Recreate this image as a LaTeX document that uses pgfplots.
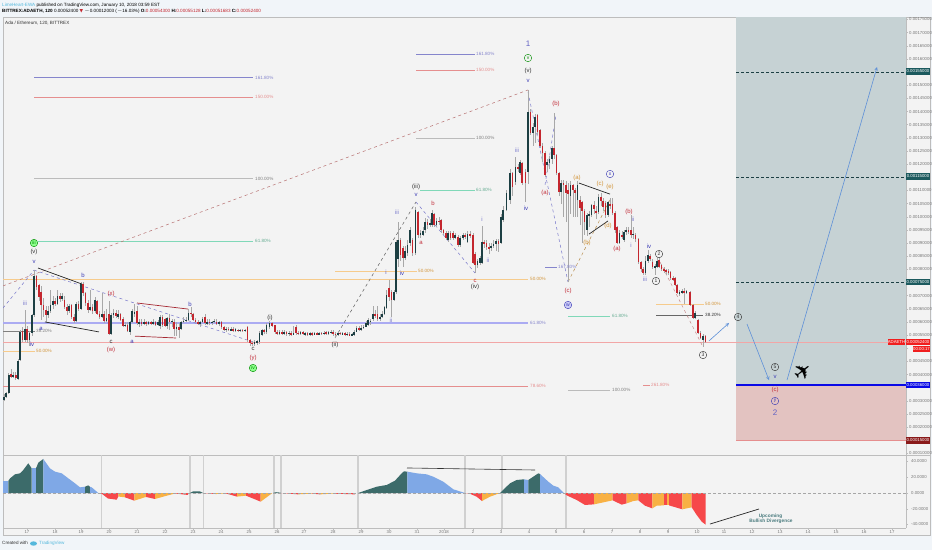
\documentclass[border=0pt]{standalone}
\usepackage{pgfplots}
\usepackage{pgfplotstable}
\pgfplotsset{compat=1.18}
\usepackage{fontspec}
\setmainfont{Liberation Sans}
\newfontfamily\djv{DejaVu Sans}
\definecolor{pagebg}{HTML}{F1F5F9}
\definecolor{panebg}{HTML}{F3F3F3}
\definecolor{framec}{HTML}{BDBDBD}
\definecolor{boxg}{HTML}{C6D2D4}
\definecolor{boxr}{HTML}{E3C3C1}
\definecolor{upc}{HTML}{1C3F43}
\definecolor{dnc}{HTML}{C4262E}
\definecolor{wickc}{HTML}{A8A8A8}
\definecolor{fibb}{HTML}{8585CC}
\definecolor{fibr}{HTML}{E58E8E}
\definecolor{fibg}{HTML}{BBBBBB}
\definecolor{fibt}{HTML}{80D8B8}
\definecolor{fibo}{HTML}{F6CB8C}
\definecolor{fibl}{HTML}{ABABF2}
\definecolor{pline}{HTML}{F2A6A6}
\definecolor{wblue}{HTML}{3B3BB5}
\definecolor{wred}{HTML}{C2303C}
\definecolor{wdark}{HTML}{333333}
\definecolor{worg}{HTML}{D2953A}
\definecolor{arrowc}{HTML}{5E90D8}
\definecolor{tealb}{HTML}{1C5A5E}
\definecolor{oscblue}{HTML}{7FA8E6}
\definecolor{oscdark}{HTML}{3C6B6A}
\definecolor{oscred}{HTML}{F6484A}
\definecolor{oscorg}{HTML}{F8B144}
\definecolor{tvblue}{HTML}{55B8DC}
\definecolor{vbar}{HTML}{D0D0D0}
\definecolor{ticktxt}{HTML}{777777}
\definecolor{lineblue}{HTML}{0A0AE6}
\definecolor{lblred}{HTML}{F01E1E}
\definecolor{lbldark}{HTML}{8A1A1A}
\newcommand{\fsm}{\fontsize{4.6}{5}\selectfont}
\newcommand{\fwv}{\fontsize{6}{6}\selectfont}

% columns: x, open, close, high, low; prices in 1e-5 ETH
\pgfplotstableread{
x o c h l
4.0 30.5 31.5 32.5 30
6.3 31.5 33 33.5 31
8.7 33 39.8 40.5 32.5
11 40.2 39.1 42 38.5
13.3 39.1 40 41 38.5
15.7 40 38.5 41 38
18 38.3 45.1 46 38
20.3 45.5 56.1 57 45
22.6 56.5 53 58 52.5
25 53 57.5 64.5 52.5
27.3 57.5 53 58.5 52
29.6 53 55.8 56.5 51
32 55.8 62.6 63 54.5
34.3 62.6 77.5 79.7 62
36.6 77.4 73.2 78 72
39 74 69.4 74.5 68
41.3 71.3 66.4 73.5 60.7
43.6 66.4 64.5 69 62
46 64.5 62.5 66 60
48.3 62.5 64 66 61.5
50.6 64 66.5 72 63.5
53 66.5 68 70 65
55.3 68 67 69 66
57.6 67 70 72 66.5
60 70 68.8 71 67.5
62.3 68.8 70 71 68
64.6 68.5 65.5 70 65
67 65.5 64 67 62.5
69.3 64 66 67 63.5
71.6 66.4 61.9 67 61
74 61.9 60.5 63 59.5
76.3 60.5 66.8 67.5 60
78.6 66.8 65 68 64
81 65 74.4 75 64.5
83.3 74.4 71 75 70
85.6 71 67.2 71.5 66
88 67.2 64.5 68.5 63.5
90.3 64.5 65.5 72 64
92.6 65.5 64 67 63
95 64 68.5 69.5 63.5
97.3 68 63 68.5 62.5
99.6 63 62 64 61
102 62 63 71 61.5
104.3 63 60.5 64 59.5
106.6 60.5 61.5 65 60
109 63 55.6 68 55
111.3 55.6 62.8 63.5 55
113.6 62.5 63.5 65 61.5
116 63.5 62.2 64.5 61.5
118.3 62 63 64.5 61
120.6 63 60.9 63.5 60.5
123 61.2 58.5 62 58
125.3 58.5 59 60 58
127.6 59 56.5 60 56
130 56.2 60 60.5 55
132.3 60 64.1 65 59.5
134.6 63 63.9 67 62
137 64 59.5 66 59
139.3 59.5 60 61 58
141.6 60 59.3 61 58.5
144 59.3 60 61 58.7
146.3 60 59.2 60.5 58.5
148.6 59.2 59.8 60.5 58.7
151 59.8 59.2 60.5 58.7
153.3 59.2 59.9 61 58.8
155.6 59.9 59 60.5 58.5
158 59 60 60.8 58.5
160.3 58.5 62 62.5 57.5
162.6 62 59 62.5 58
165 61 58.5 61.5 58
167.3 58.5 61.5 62 57.5
169.6 61.5 60 63 57
172 60 60.5 61 58
174.3 60 57.2 61 54.5
176.6 57.2 58 60 54.5
179 58 57 59.5 54
181.3 57.5 60 60.5 57
183.6 60 60.5 62 59.5
186 60.5 60.8 62 60
188.6 60.8 63.5 65 60.5
191 63.5 63 65.5 62
193.3 63 60.9 63.5 60.5
195.6 60.9 60 61.5 59.5
198 60 59.5 60.8 59
200.3 59.5 60 60.5 58
202.6 60 61 62 59.5
205 62 59.5 63 59
207.3 59.5 60 61 59
209.6 60 59.8 61 59
212 59.8 60 60.5 59
214.3 60 60.4 61 59.5
216.6 60 59.5 61 59
219 59.5 60 60.5 58.5
221.6 60 58 60.5 57.5
224 58 57 58.5 56.5
226.3 57 57.5 58 56
228.6 57.5 56.8 58 56.5
231 56.8 57.3 58 56.5
233.3 57.3 56.8 58 56
235.6 56.8 57 57.8 56.3
238 57 56.5 57.5 56
240.3 56.5 57 57.5 56
242.6 57 56.5 57.3 56
245 56.5 57 57.5 56
247.6 58 53.1 58.3 52.5
250 53.1 52 53.5 51
252.3 52 51.7 52.8 51
254.6 51.7 52.2 53 51
257 52.2 52.5 53 51.3
259.6 52.3 55.8 56.5 51.5
262 55 56.8 57.5 54.5
264.3 56.8 56.2 57.5 55.5
266.6 56 58.8 59.5 55.5
269.6 58 59.6 60.5 57.5
272 59.6 58.6 60 58
275 58.8 56 59 55.5
277.3 56 55.5 57 55
279.6 55.5 56.3 57 55
282 56.3 55.5 57 55
284.3 55.5 56 57 55
286.6 56 55.4 56.5 54.5
289 55.4 55.9 56.5 54.8
291.3 55.9 55.2 56.5 54.5
293.6 55.2 55.6 58.5 55
296 58 55.8 59 55
298.3 55.8 55.5 56.5 55
300.6 55.5 56 56.5 55
303 56 55.3 56.5 55
305.3 55.3 55.7 56.2 54.8
307.6 55.7 55.2 56 54.8
310 55.2 55.6 56 54.8
312.3 55.6 55.3 56 54.8
314.6 55.3 55.8 56.2 55
317 55.8 55.4 56.2 55
319.3 55.4 55.8 56.2 55
321.6 55.8 55.5 56.2 55
324 55.5 55.9 56.4 55
326.3 55.9 55.6 56.4 55.2
328.6 55.6 56 56.5 55.2
331 56 56.2 56.8 55.5
333.3 56.2 55.5 56.8 54.5
335.6 55.5 55.2 56 53.9
338 55.2 55.9 56.3 54.8
340.3 55.9 55.5 56.3 55
342.6 55.5 55.7 56.2 55
345 55.7 55.2 56 54.8
347.3 55.2 55.5 56 54.8
349.6 55.5 54.9 56 54.5
352 54.9 55.2 55.8 54.5
354.3 55.2 56.2 57 54.8
356.6 56.2 57.8 58.5 56
359 57.8 57 58.5 56.5
361.3 57 57.8 59 56.5
363.6 57.8 58.2 59 57.5
366 58.2 59.6 60.5 58
368.3 59 60.7 61.5 58.5
370.6 60 60.5 61 59
373 61 63 66 60.5
375.3 63 62.5 64.5 61.5
377.6 63 61 66 60.5
380 61 62 63 60.5
382.3 62 63 64 61.5
384.6 63 65.5 66 62.5
386.6 65.3 70.2 72 65
389 73 69.4 75.9 68
391.6 71.3 68.3 72 61.8
394 68.5 71.3 72 68
396 71.3 90.3 91 70.5
398.3 84 91 98 81
400.6 91 85.4 92 83
403 88 84.3 89 81
405.3 84.3 87 89 83.5
407.6 86.2 89.2 91 85
410 90 94.9 96 89
412.6 91 86.2 92 85
415.5 86.2 102.5 103.6 85.5
418.3 101.7 93 102 92
420.6 93 93.9 95 92
423 93 94.5 96 92.5
425.3 94.9 98 99.5 94
427.6 98 96.8 99 95.5
430 96.8 97.5 99 96
432 96.8 101.5 102.5 96
434.3 101 96.8 101.5 96
436.6 96.8 98.5 99.5 96
439 98.5 98 100 97
441.3 98.7 94.9 99 94
443.6 94.9 94 95.5 93
446 94 92 94.5 91
448.3 91.1 93.8 94.5 90.5
450.6 93.8 92 94.5 91
453 93.8 91.9 94.5 91
455.3 92 93 94 91.5
458 92.2 89.2 93 88.5
460.3 89.2 92 92.5 88.5
463 92 93 94 91
465.3 93 92.5 94 91.5
467.6 90.3 93.4 94.5 90
470 93.4 93 94.5 92
473 93 82.4 94 82
475.3 86 81.6 86.5 78.6
477.6 81.6 83 84 80.5
480 82.4 84.3 85 81.5
482 82.4 90.3 96.4 82
484.3 90.3 90 91 88
486.6 90 88.5 91 87.5
489 88.5 88 90 86
491.3 88 88.8 90 87
493.6 88.8 89.5 91 88
496 89.6 90.7 91.5 87
498.6 90.7 89.6 91.5 86.5
501 90 99.8 101 89.5
503.3 98.7 102.5 104 98
506.6 102.5 109 110 102
510 106.3 116.6 118 105
512.6 116.6 111.2 117 108
515.6 113.1 118.8 122.6 112
518 118.8 118 120 117
520 116.6 120.7 121.5 116
522.3 120.4 112.8 121 112
525.6 116.9 112.8 118 105.5
528.3 116.9 139.7 148.1 112.5
530.6 139.7 131.8 141 131
533 131.8 134 135.5 127
535.3 134 138 139 128
537.6 138.6 132.1 139 131
540.3 132.9 127 133.5 126
542.6 127 124.2 128 121
545 124.2 115.8 125 115
547.3 119.6 120.7 122 117
549.6 120.4 122 123 118
552 122 126 127 120
554.3 126 123.4 139.4 122
556.6 123.4 116.6 124 116
559 116.6 109.3 117 108
561.3 109.3 112.8 114 105
563.6 112.8 112 114 100
566 112 109 113.5 98
568.3 110 108.5 113 75.1
570.6 108 112 113.5 101
573 112 110 112.5 100
575.3 110 109 111 100
577.6 106.3 112 113.5 100
580 106.3 103.3 108 97
582.3 105.5 102 106 90
584.6 102 98 103 93
587 94.9 100.6 101.5 92.6
589.3 100.6 101 102 96
591.6 100.6 104.4 105 100
594 104.4 103 106 101
596.3 102 101.5 104 99
598.6 101.7 107.4 108.5 101
601 107.4 106 109 104
603.3 106 103.6 107 102
605.6 105.2 100.6 106 99.5
608 100.6 105.5 106 100
610.3 105 104 107 103
612.6 105 101.4 107 100.5
615 101.4 94.9 102 94
617.3 96 90 96.5 89.5
619.6 90 93.8 95 89.5
622 93 92.5 94.5 91.5
624 91.1 94.1 95 90.5
626.3 94.1 95 96 93
628.6 95 94.5 96 93.5
631 94.9 93 100.6 92
633.3 93 93.5 96 91.5
635.6 93 91.5 94 90.5
638.6 91.5 82.7 92 82
641 82.7 80 83 79
643.3 80 78.6 81 78
645.6 78.6 83 85 78
648 83 85.4 87.5 82.5
650.3 85 84 86 83
652.6 82.7 80.8 84 80
655 80.8 81 82 78
657 81 83 85 80.5
659.3 83.5 81 85 80.5
661.6 81.5 80 82 79.5
664 80 79.8 81 78.5
666.3 79.8 79 80 78
668.6 79.2 79 80 78
670.6 79 76.7 79.5 76
673 76.7 76 77.5 75.5
675 76.7 74 77 73.5
677.3 74 71 74.5 70.5
679.6 71 71.2 72 70
682 71.2 71.6 72.5 70.5
684.3 71.6 71.3 73 67
686.6 71.3 71.6 72 70.5
690 71.3 66.4 71.8 66
693 66.4 61.5 67 61
695.3 61.5 63.3 64 61
698 60.7 55.8 61 55.5
700.6 55.8 53.9 56.5 53.5
703 53.1 54.6 55.5 50.4
705.6 54.6 52.4 55.2 52
}\candles

% oscillator envelope: x, value
\pgfplotstableread{
x v
3 15.2
8.3 15.2
10 18.6
15 23.7
20 25
23.3 29.2
28.3 37.7
31.7 31.3
36 31.3
38.3 38.5
43.3 43.2
50 31.3
55 27.1
61.7 25
68.3 18.6
75 12.3
80 7.2
85 8
88.3 9.7
90 7.8
91.7 7.2
98.3 0
101.7 -0.8
108 -7
116.7 -8.5
118.3 -4.5
125 -5.5
134.3 -9.7
146 -5
155 -7.6
165 -4
175 -0.6
188 -2.5
190 0
193 2
200 2
203 0
216 -1.3
226 -0.6
237 -4.6
246 -3.4
253 -7
260.7 -11
272 -0.4
273 0
276 1
280 0.5
281 0
298 -1.7
312 -0.8
320 -1.7
333 -0.8
355 -1.7
358.3 0
366.7 3.8
376.7 8
386.7 10.2
395 15.7
401.7 25
404 27.5
407.3 27.1
416.7 25
426.7 23.7
433.3 20.7
443.3 14.4
453.3 4.7
465 0
470 -1
476.7 -4.7
482 -10.2
485 -8
490 -4.7
500 0
510 12.3
516.7 16.5
524 17.4
528.3 16.5
533.3 20.7
538.3 25
540 24.1
548.3 14.4
553.3 9.3
558.3 7.2
564 0
566.7 -3
576.7 -8.9
585 -15.2
594 -14.4
603.3 -11.9
612.7 -9.3
621.7 -14.8
626.7 -13.1
633.3 -10.2
638.3 -9.3
645 -16.1
652.3 -19.5
656.7 -16.1
664 -15.7
666.7 -15.7
669 -15.7
682.3 -20.7
686.7 -19.5
691.7 -18.2
696.7 -27.9
701.7 -36.4
705.7 -40.2
}\osc

\newcommand{\seg}[5]{\addplot[#1] coordinates {(#2,#3)(#4,#5)};}
\newcommand{\oseg}[3]{\addplot[fill=#3,draw=none,restrict x to domain=#1:#2] table[x=x,y=v]{\osc} \closedcycle;}
\newcommand{\vb}[1]{\addplot[vbar,line width=1.4pt] coordinates {(#1,-44.44)(#1,48.25)};}
\newcommand{\W}[5][\fwv]{\node[text=#2,font=#1,inner sep=0pt] at (axis cs:#3,#4) {#5};}
\newcommand{\FL}[4]{\node[text=#1,font=\fsm,inner sep=0pt,anchor=west] at (axis cs:#2,#3) {#4};}
\newcommand{\CC}[5]{\node[circle,draw=#1,fill=#2,text=#1,font=\fontsize{5}{5}\selectfont,inner sep=0pt,minimum size=7.5pt,line width=.4pt] at (axis cs:#3,#4) {#5};}
\newcommand{\PB}[3]{\node[fill=#1,text=white,font=\fontsize{4.3}{5}\selectfont,inner sep=0pt,minimum width=24pt,minimum height=6.2pt] at (axis cs:918,#2) {#3};}

\begin{document}
\begin{tikzpicture}
\useasboundingbox (0,0) rectangle (932pt,550pt);
% ---------- page and panes
\begin{axis}[at={(0,0)},anchor=south west,scale only axis,width=932pt,height=550pt,
  xmin=0,xmax=932,ymin=0,ymax=550,y dir=reverse,hide axis,clip=false]
\fill[pagebg] (axis cs:0,0) rectangle (axis cs:932,550);
\fill[panebg] (axis cs:3,17) rectangle (axis cs:930,535);
\draw[framec,line width=.9pt] (axis cs:3,17) rectangle (axis cs:930,535);
\draw[framec,line width=.9pt] (axis cs:3,455) -- (axis cs:930,455);
\draw[framec,line width=.7pt] (axis cs:3,528) -- (axis cs:906,528);
\end{axis}
% ---------- price pane
\begin{axis}[at={(3pt,95pt)},anchor=south west,scale only axis,width=903pt,height=438pt,
  xmin=3,xmax=906,ymin=9.41,ymax=175.94,
  axis x line=none,axis y line=right,axis line style={-,draw=framec},
  ytick={10,15,...,175},
  yticklabels={0.00010000,,0.00020000,0.00025000,0.00030000,,0.00040000,0.00045000,,0.00055000,0.00060000,0.00065000,0.00070000,,0.00080000,0.00085000,0.00090000,0.00095000,0.00100000,0.00105000,0.00110000,,0.00120000,0.00125000,0.00130000,0.00135000,0.00140000,0.00145000,0.00150000,,0.00160000,0.00165000,0.00170000,0.00175000},
  yticklabel style={font=\fontsize{4.3}{5}\selectfont,text=ticktxt,inner sep=0pt,xshift=1pt},
  tick style={draw=framec,line width=.4pt},tick align=outside,major tick length=2pt,
  unbounded coords=discard]
% target zones
\addplot[fill=boxg,draw=none] coordinates {(736,36)(906,36)(906,175.94)(736,175.94)} -- cycle;
\addplot[fill=boxr,draw=none] coordinates {(736,15)(906,15)(906,36)(736,36)} -- cycle;
\seg{fibr,line width=.4pt}{736}{15}{906}{15}
% Fibonacci levels
\seg{fibb,line width=.7pt}{34}{152.9}{253}{152.9}
\seg{fibr,line width=.7pt}{34}{145.5}{253}{145.5}
\seg{fibg,line width=.8pt}{34}{114.5}{253}{114.5}
\seg{fibt,line width=.7pt}{38}{90.8}{253}{90.8}
\seg{fibo,line width=.7pt}{3}{76.3}{528}{76.3}
\seg{fibl,line width=1.4pt}{3}{59.6}{528}{59.6}
\seg{fibr,line width=.7pt}{3}{35.6}{528}{35.6}
\seg{gray,line width=.5pt}{3}{56.6}{35}{56.6}
\seg{fibo,line width=.8pt}{3}{48.9}{35}{48.9}
\seg{fibo,line width=.7pt}{335}{79.4}{417}{79.4}
\seg{fibb,line width=.7pt}{416}{161.9}{475}{161.9}
\seg{fibr,line width=.7pt}{416}{155.8}{475}{155.8}
\seg{fibg,line width=.8pt}{416}{129.9}{475}{129.9}
\seg{fibt,line width=.7pt}{420}{110.2}{475}{110.2}
\seg{fibb,line width=.7pt}{545}{80.9}{557}{80.9}
\seg{fibt,line width=.7pt}{568}{62.3}{610}{62.3}
\seg{fibg,line width=.8pt}{568}{34.1}{610}{34.1}
\seg{fibr,line width=.7pt}{643}{36}{650}{36}
\seg{fibo,line width=.8pt}{656}{66.8}{704}{66.8}
\seg{gray!80!black,line width=.5pt}{656}{62.6}{703}{62.6}
\seg{pline,line width=.6pt}{3}{52.4}{906}{52.4}
% targets
\seg{upc,densely dashed,line width=.9pt}{736}{155}{906}{155}
\seg{upc,densely dashed,line width=.9pt}{736}{115}{906}{115}
\seg{upc,densely dashed,line width=.9pt}{736}{75}{906}{75}
\seg{lineblue,line width=1.3pt}{736}{36}{906}{36}
% dashed swing lines
\seg{fibr!80!black,dashed,line width=.5pt}{3}{73.7}{528}{148.2}
\seg{wblue!70,dashed,line width=.5pt}{3}{65.3}{34}{79.7}
\seg{wblue!70,dashed,line width=.5pt}{34}{79.7}{253}{52.4}
\seg{wdark!80,dashed,line width=.5pt}{335}{53.9}{416}{105.6}
\seg{wblue!70,dashed,line width=.5pt}{416}{105.6}{475}{78.6}
\seg{wblue!70,dashed,line width=.5pt}{528}{147.4}{568}{75.2}
\seg{wblue!70,dashed,line width=.5pt}{545}{112.1}{556}{138.7}
\seg{worg!70!gray,dashed,line width=.5pt}{568}{75.2}{610}{106.4}
\seg{fibr!70!gray,dashed,line width=.5pt}{660}{82.8}{703}{50.5}
% candles
\addplot[draw=none,error bars/.cd,y dir=both,y explicit,error mark=none,
  error bar style={line width=.55pt,color=wickc}]
  table[x=x,y expr={(\thisrow{h}+\thisrow{l})/2},
        y error plus expr={(\thisrow{h}-\thisrow{l})/2},
        y error minus expr={(\thisrow{h}-\thisrow{l})/2}]{\candles};
\addplot[draw=none,error bars/.cd,y dir=both,y explicit,error mark=none,
  error bar style={line width=1.7pt,color=upc}]
  table[x=x,y expr={\thisrow{c}>=\thisrow{o} ? (\thisrow{o}+\thisrow{c})/2 : nan},
        y error plus expr={max(abs(\thisrow{c}-\thisrow{o})/2,0.25)},
        y error minus expr={max(abs(\thisrow{c}-\thisrow{o})/2,0.25)}]{\candles};
\addplot[draw=none,error bars/.cd,y dir=both,y explicit,error mark=none,
  error bar style={line width=1.7pt,color=dnc}]
  table[x=x,y expr={\thisrow{c}<\thisrow{o} ? (\thisrow{o}+\thisrow{c})/2 : nan},
        y error plus expr={max(abs(\thisrow{c}-\thisrow{o})/2,0.25)},
        y error minus expr={max(abs(\thisrow{c}-\thisrow{o})/2,0.25)}]{\candles};
% trend lines
\seg{black!85,line width=.7pt}{38}{80.5}{82}{74.4}
\seg{black!85,line width=.7pt}{45}{60}{99}{56.2}
\seg{wred!85!black,line width=.7pt}{137}{67.2}{188}{64.9}
\seg{wred!85!black,line width=.7pt}{135}{54.6}{176}{53.9}
\seg{black!85,line width=.7pt}{579}{112.8}{610}{108.6}
\seg{black!85,line width=.7pt}{589}{93.4}{608}{98.4}
% projection arrows
\seg{arrowc,-stealth,line width=.6pt}{709}{52.8}{729}{59.6}
\seg{arrowc,-stealth,line width=.6pt}{747}{59.2}{769}{37.9}
\seg{arrowc,-stealth,line width=.6pt}{787}{37.9}{877}{156.9}
\end{axis}
% ---------- oscillator pane
\begin{axis}[at={(3pt,22pt)},anchor=south west,scale only axis,width=903pt,height=73pt,
  xmin=3,xmax=906,ymin=-44.44,ymax=48.25,
  axis x line=bottom,axis y line=right,axis line style={-,draw=framec},
  xtick={27,55,81,109,137,165,193,221,249,277,304,333,361,389,417,444,473,501,529,556,584,612,640,668,697,724,752,780,808,836,864,892},
  xticklabels={17,18,19,20,21,22,23,24,25,26,27,28,29,30,31,2018,2,3,4,5,6,7,8,9,10,11,12,13,14,15,16,17},
  ytick={-40,-20,0,20,40},
  yticklabels={-40.0000,-20.0000,0.0000,20.0000,40.0000},
  xticklabel style={font=\fontsize{4.3}{5}\selectfont,text=ticktxt,inner sep=0pt,yshift=-.5pt},
  yticklabel style={font=\fontsize{4.3}{5}\selectfont,text=ticktxt,inner sep=0pt,xshift=3pt},
  tick style={draw=framec,line width=.4pt},tick align=outside,major tick length=2pt,
  unbounded coords=discard]
\vb{101.5}\vb{190}\vb{203.5}\vb{274}\vb{281}\vb{358}\vb{465}\vb{502}\vb{566}
\oseg{3}{8.3}{oscblue}\oseg{8.3}{31.7}{oscdark}\oseg{31.7}{36}{oscblue}\oseg{36}{43.3}{oscdark}
\oseg{43.3}{85}{oscblue}\oseg{85}{90}{oscdark}\oseg{90}{98.3}{oscblue}
\oseg{98.3}{118.3}{oscred}\oseg{118.3}{125}{oscorg}\oseg{125}{134.3}{oscred}\oseg{134.3}{146}{oscorg}
\oseg{146}{155}{oscred}\oseg{155}{175}{oscorg}\oseg{175}{188}{oscred}\oseg{190}{203}{oscdark}
\oseg{203}{216}{oscred}\oseg{216}{226}{oscorg}\oseg{226}{237}{oscred}\oseg{237}{246}{oscorg}
\oseg{246}{260.7}{oscred}\oseg{260.7}{272}{oscorg}\oseg{273}{281}{oscdark}
\oseg{281}{298}{oscred}\oseg{298}{312}{oscorg}\oseg{312}{320}{oscred}\oseg{320}{333}{oscorg}
\oseg{333}{355}{oscred}\oseg{358.3}{407.3}{oscdark}\oseg{407.3}{465}{oscblue}
\oseg{465}{482}{oscred}\oseg{482}{500}{oscorg}\oseg{500}{524}{oscdark}\oseg{524}{528.3}{oscblue}
\oseg{528.3}{540}{oscdark}\oseg{540}{564}{oscblue}
\oseg{564}{594}{oscred}\oseg{594}{612.7}{oscorg}\oseg{612.7}{626.7}{oscred}\oseg{626.7}{638.3}{oscorg}
\oseg{638.3}{652.3}{oscred}\oseg{652.3}{664}{oscorg}\oseg{664}{666.7}{oscred}\oseg{666.7}{669}{oscorg}
\oseg{669}{682.3}{oscred}\oseg{682.3}{691.7}{oscorg}\oseg{691.7}{705.7}{oscred}
\addplot[gray!70,densely dashed,line width=.4pt] coordinates {(3,0)(906,0)};
\addplot[black!80,line width=.6pt] coordinates {(407,31.8)(535,29.2)};
\addplot[black!85,line width=.7pt] coordinates {(710,-39.4)(759,-20.3)};
\end{axis}
% ---------- annotations (pixel positions)
\begin{axis}[at={(0,0)},anchor=south west,scale only axis,width=932pt,height=550pt,
  xmin=0,xmax=932,ymin=0,ymax=550,y dir=reverse,hide axis,clip=false]
% header
\node[anchor=west,inner sep=0pt,font=\fsm] at (axis cs:2,5) {\textcolor{tvblue}{LimeHeart-EWA} published on TradingView.com, January 10, 2018 03:59 EST};
\node[anchor=west,inner sep=0pt,font=\fsm] at (axis cs:2,11.5) {\textbf{BITTREX:ADAETH, 120} 0.00052400 {\djv\textcolor{dnc}{▼}} $-$0.00012003 ($-$16.03\%) \textbf{O:}\textcolor{dnc}{0.00054300} \textbf{H:}\textcolor{dnc}{0.00055128} \textbf{L:}\textcolor{dnc}{0.00051683} \textbf{C:}\textcolor{dnc}{0.00052400}};
\node[anchor=west,inner sep=0pt,font=\fsm,text=wdark] at (axis cs:5,23.5) {Ada / Ethereum, 120, BITTREX};
% fib labels
\FL{fibb}{255}{77.5}{161.80\%}\FL{fibr}{255}{97}{150.00\%}\FL{gray}{255}{178.5}{100.00\%}\FL{fibt!80!black}{255}{241}{61.80\%}
\FL{worg}{530}{279}{50.00\%}\FL{fibb}{530}{323}{61.80\%}\FL{fibr}{530}{386}{78.60\%}
\FL{gray}{36}{331}{38.20\%}\FL{worg}{36}{351}{50.00\%}\FL{worg}{418}{271}{50.00\%}
\FL{fibb}{476}{54}{161.80\%}\FL{fibr}{476}{70}{150.00\%}\FL{gray}{476}{138}{100.00\%}\FL{fibt!80!black}{476}{190}{61.80\%}
\FL{fibb}{558}{267}{167.80\%}\FL{fibt!80!black}{612}{316}{61.80\%}\FL{gray}{612}{390}{100.00\%}
\FL{fibr}{651}{385}{261.80\%}\FL{worg}{705}{304}{50.00\%}\FL{wdark}{705}{315}{38.20\%}
% wave labels
\W[\fontsize{8}{8}\selectfont]{wblue!80}{528}{44}{1}
\CC{green!55!black}{panebg}{528}{58}{v}
\W{wdark}{528}{71}{(v)}\W{wblue}{528}{81}{v}
\CC{green!55!black}{green!45}{34}{243}{iii}
\W{wdark}{34}{252}{(v)}\W{wblue}{34}{262}{v}\W{wblue}{83}{275}{b}\W{wred}{111}{294}{(x)}
\W{wblue!70}{25}{303}{iii}\W{wblue}{32}{344}{iv}\W{wblue}{41}{329}{a}
\W{wdark}{111}{342}{c}\W{wred}{111}{350}{(w)}\W{wblue}{132}{342}{a}\W{wblue}{190}{304}{b}
\W{wdark}{253}{349}{c}\W{wred}{253}{358}{(y)}\CC{green!55!black}{green!45}{253}{368}{iv}
\W{wdark}{270}{318}{(i)}\W{wdark}{335}{345}{(ii)}
\W{wdark}{416}{187}{(iii)}\W{wblue}{416}{195}{v}\W{wblue!70}{397}{212}{iii}\W{wred}{433}{203}{b}\W{wred}{421}{243}{a}
\W{wblue!70}{482}{219}{i}\W{wblue!70}{488}{260}{ii}\W{wblue}{402}{273}{iv}\W{wblue!80}{386}{272}{i}\W{wblue!70}{391}{320}{ii}
\W{wred}{475}{281}{c}\W{wdark}{475}{287}{(iv)}
\W{wblue!70}{517}{150}{iii}\W{wblue}{526}{208}{iv}\W{wred}{545}{193}{(a)}\W{wred}{556}{104}{(b)}
\W{worg}{577}{178}{(a)}\W{worg}{600}{184}{(c)}\W{worg}{610}{187}{(e)}\CC{wblue}{panebg}{610}{174}{x}
\W{worg}{608}{226}{(d)}\W{worg}{587}{243}{(b)}
\W{wred}{568}{291}{(c)}\CC{wblue}{fibl!60}{568}{305}{w}
\W{wred}{617}{249}{(a)}\W{wred}{629}{212}{(b)}\W{wblue!70}{633}{219}{ii}\W{wblue!70}{631}{245}{i}
\W{wblue}{649}{246}{iv}\W{wblue!70}{645}{279}{iii}
\CC{wdark}{panebg}{659}{254}{2}\CC{wdark}{panebg}{656}{281}{1}\CC{wdark}{panebg}{703}{355}{3}
\CC{wdark}{boxg}{738}{317}{4}\CC{wdark}{boxg}{775}{367}{5}
\W{wblue}{775}{377}{v}\W{wred}{775}{390}{(c)}\CC{wblue}{boxr}{775}{401}{y}
\W[\fontsize{8}{8}\selectfont]{wblue!80}{775}{413}{2}
\node[text=black,font=\djv\fontsize{22}{22}\selectfont,inner sep=0pt,rotate=38] at (axis cs:803,372) {✈};
% price labels
\PB{tealb}{71.5}{0.00155000}
\PB{tealb}{176.5}{0.00115000}
\PB{tealb}{282}{0.00075000}
\PB{lineblue}{385}{0.00036000}
\PB{lbldark}{440.5}{0.00015000}
\PB{lblred}{342}{0.00052400}
\node[fill=lblred,text=white,font=\fontsize{4.3}{5}\selectfont,inner sep=0pt,minimum width=17pt,minimum height=6.2pt] at (axis cs:896.5,342) {ADAETH};
\node[fill=lblred,text=white,font=\fontsize{4.3}{5}\selectfont,inner sep=0pt,minimum width=17pt,minimum height=5.6pt] at (axis cs:921.5,349) {00:00:17};
% bottom
\node[text=tealb!80,font=\fontsize{4.8}{5}\bfseries\selectfont,inner sep=0pt] at (axis cs:770.5,516) {Upcoming};
\node[text=tealb!80,font=\fontsize{4.8}{5}\bfseries\selectfont,inner sep=0pt] at (axis cs:771,521.5) {Bullish Divergence};
\node[anchor=west,inner sep=0pt,font=\fsm,text=wdark] at (axis cs:2,543) {Created with};
\fill[tvblue] (axis cs:33.5,543.5) ellipse (3.5pt and 2.2pt);
\node[anchor=west,inner sep=0pt,font=\fsm,text=tvblue] at (axis cs:39,543) {TradingView};
\end{axis}
\end{tikzpicture}
\end{document}
